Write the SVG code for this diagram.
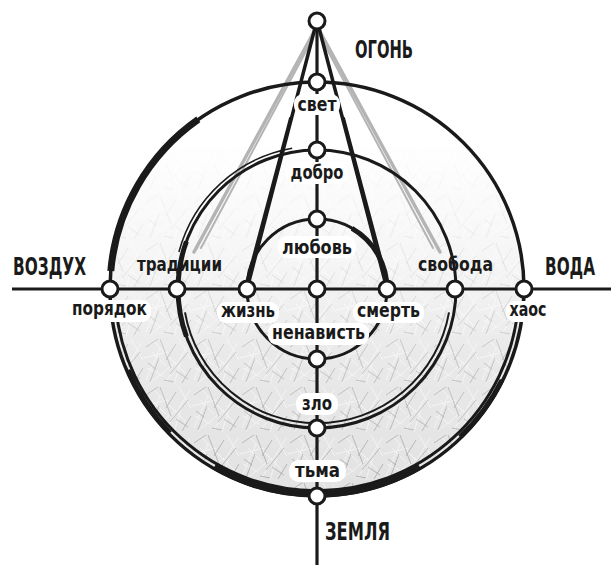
<svg xmlns="http://www.w3.org/2000/svg" width="611" height="565" viewBox="0 0 611 565">
<style>
.ring{fill:none;stroke:#1a1a1a}
.ax{stroke:#1a1a1a;stroke-width:3.2;fill:none}
.leg{stroke:#1a1a1a;fill:none;stroke-linecap:round}
.beam{stroke:#b4b4b4;fill:none;stroke-linecap:round}
.node{fill:#fff;stroke:#1a1a1a;stroke-width:3}
.pill{fill:#fff}
.lbl{font-family:"DejaVu Sans Condensed","DejaVu Sans",sans-serif;font-stretch:condensed;font-weight:bold;font-size:19px;fill:#1a1a1a;text-anchor:middle}
.big{font-family:"DejaVu Sans Condensed","DejaVu Sans",sans-serif;font-stretch:condensed;font-weight:bold;font-size:25px;fill:#1a1a1a}
</style>
<defs>
<pattern id="grass" width="48" height="48" patternUnits="userSpaceOnUse">
<rect width="48" height="48" fill="#e2e2e2"/>
<path d="M2 44 L16 12 M6 47 L32 26 M22 46 L46 6 M0 22 L24 16 M30 48 L38 22 M10 6 L42 38 M35 3 L47 24 M3 32 L19 40 M8 16 L22 30" stroke="#f2f2f2" stroke-width="1" fill="none"/>
<path d="M6 46 L15 22 M26 38 L44 16 M16 3 L27 32 M38 47 L47 32 M2 11 L14 3 M32 8 L22 24 M44 43 L32 35 M4 27 L12 33 M20 44 L30 46" stroke="#9c9c9c" stroke-width="0.7" fill="none"/>
</pattern>
<linearGradient id="fade" gradientUnits="userSpaceOnUse" x1="0" y1="140" x2="0" y2="495">
<stop offset="0" stop-color="#fff" stop-opacity="0"/>
<stop offset="0.35" stop-color="#fff" stop-opacity="0.35"/>
<stop offset="0.6" stop-color="#fff" stop-opacity="0.75"/>
<stop offset="1" stop-color="#fff" stop-opacity="1"/>
</linearGradient>
<mask id="fadeMask"><rect x="0" y="0" width="611" height="565" fill="url(#fade)"/></mask>
<clipPath id="outerClip"><circle cx="317" cy="289" r="205"/></clipPath>
</defs>
<rect width="611" height="565" fill="#fff"/>
<g id="texture" clip-path="url(#outerClip)" mask="url(#fadeMask)">
<rect x="100" y="80" width="440" height="420" fill="url(#grass)"/>
</g>
<g id="beams">
<line class="beam" x1="316" y1="28" x2="194" y2="252" stroke-width="3.5"/>
<line class="beam" x1="313" y1="38" x2="201" y2="248" stroke-width="2" stroke="#cfcfcf"/>
<line class="beam" x1="318" y1="28" x2="440" y2="252" stroke-width="3.5"/>
<line class="beam" x1="321" y1="38" x2="433" y2="248" stroke-width="2" stroke="#cfcfcf"/>
</g>
<g id="rings">
<circle class="ring" cx="317" cy="289" r="207" stroke-width="3.5"/>
<path class="ring" d="M110.8 271 A207 207 0 0 1 198.3 119.4" stroke-width="7"/>
<path class="ring" d="M518.2 306.6 A202 202 0 0 1 115.8 306.6" stroke-width="3"/>
<path class="ring" d="M419.5 466.5 A205 205 0 0 1 214.5 466.5" stroke-width="7"/>
<path class="ring" d="M502 380 A206 206 0 0 1 460 437" stroke-width="5"/>
<path class="ring" d="M170 433 A206 206 0 0 1 128 370" stroke-width="5"/>
<circle class="ring" cx="317" cy="289" r="139" stroke-width="3"/>
<path class="ring" d="M449 312.3 A134 134 0 0 1 185 312.3" stroke-width="2"/>
<path class="ring" d="M178.9 252 A143 143 0 0 1 292.2 148.2" stroke-width="1.5"/>
<path class="ring" d="M186.4 336.5 A139 139 0 0 1 186.4 241.5" stroke-width="5"/>
<circle class="ring" cx="317" cy="289" r="70" stroke-width="3"/>
<path class="ring" d="M352 228.4 A70 70 0 0 1 387 289" stroke-width="5"/>
</g>
<g id="connectors">
<line class="ax" x1="12" y1="289" x2="611" y2="289"/>
<line class="ax" x1="317" y1="21" x2="317" y2="565"/>
<line class="leg" x1="316" y1="24" x2="247" y2="289" stroke-width="3.5"/>
<line class="leg" x1="290" y1="118" x2="245" y2="287" stroke-width="2"/>
<line class="leg" x1="318" y1="24" x2="387" y2="289" stroke-width="3.5"/>
<line class="leg" x1="344" y1="118" x2="389" y2="287" stroke-width="2"/>
</g>
<g id="n-top"><circle class="node" cx="317" cy="21" r="8"/></g>
<g id="n-svet"><circle class="node" cx="317" cy="82" r="8"/><rect class="pill" x="294" y="94" width="46" height="21" rx="9"/><text class="lbl" x="317" y="111" textLength="39" lengthAdjust="spacingAndGlyphs">свет</text></g>
<g id="n-dobro"><circle class="node" cx="317" cy="150" r="8"/><rect class="pill" x="286" y="162" width="62" height="22" rx="9"/><text class="lbl" x="317" y="179" textLength="53" lengthAdjust="spacingAndGlyphs">добро</text></g>
<g id="n-lyubov"><circle class="node" cx="317" cy="219" r="8"/><rect class="pill" x="278" y="236" width="78" height="22" rx="9"/><text class="lbl" x="317" y="254" textLength="70" lengthAdjust="spacingAndGlyphs">любовь</text></g>
<g id="n-center"><circle class="node" cx="317" cy="289" r="8"/></g>
<g id="n-nenavist"><circle class="node" cx="317" cy="359" r="8"/><rect class="pill" x="268" y="323" width="101" height="22" rx="9"/><text class="lbl" x="318.5" y="339" textLength="93" lengthAdjust="spacingAndGlyphs">ненависть</text></g>
<g id="n-zlo"><circle class="node" cx="317" cy="428" r="8"/><rect class="pill" x="296" y="393" width="42" height="22" rx="10"/><text class="lbl" x="317" y="410" textLength="30" lengthAdjust="spacingAndGlyphs">зло</text></g>
<g id="n-tma"><circle class="node" cx="317" cy="496" r="8"/><rect class="pill" x="289" y="460" width="57" height="22" rx="10"/><text class="lbl" x="317.5" y="477" textLength="45" lengthAdjust="spacingAndGlyphs">тьма</text></g>
<g id="n-poryadok"><circle class="node" cx="110" cy="289" r="8"/><rect class="pill" x="68" y="300" width="83" height="22" rx="9"/><text class="lbl" x="109.5" y="315" textLength="75" lengthAdjust="spacingAndGlyphs">порядок</text></g>
<g id="n-traditsii"><circle class="node" cx="177" cy="289" r="8"/><text class="lbl" x="179.5" y="271" textLength="85" lengthAdjust="spacingAndGlyphs">традиции</text></g>
<g id="n-zhizn"><circle class="node" cx="247" cy="289" r="8"/><rect class="pill" x="217" y="302" width="62" height="21" rx="9"/><text class="lbl" x="248" y="317" textLength="54" lengthAdjust="spacingAndGlyphs">жизнь</text></g>
<g id="n-smert"><circle class="node" cx="387" cy="289" r="8"/><rect class="pill" x="353" y="302" width="71" height="21" rx="9"/><text class="lbl" x="388.5" y="317" textLength="63" lengthAdjust="spacingAndGlyphs">смерть</text></g>
<g id="n-svoboda"><circle class="node" cx="455" cy="289" r="8"/><text class="lbl" x="455.5" y="271" textLength="75" lengthAdjust="spacingAndGlyphs">свобода</text></g>
<g id="n-haos"><circle class="node" cx="524" cy="289" r="8"/><rect class="pill" x="506" y="301" width="45" height="21" rx="9"/><text class="lbl" x="528" y="316" textLength="37" lengthAdjust="spacingAndGlyphs">хаос</text></g>
<g id="l-ogon"><text class="big" x="355" y="58" textLength="58" lengthAdjust="spacingAndGlyphs">ОГОНЬ</text></g>
<g id="l-vozduh"><text class="big" x="13" y="275" textLength="73" lengthAdjust="spacingAndGlyphs">ВОЗДУХ</text></g>
<g id="l-voda"><text class="big" x="545" y="275" textLength="50" lengthAdjust="spacingAndGlyphs">ВОДА</text></g>
<g id="l-zemlya"><text class="big" x="325" y="540" textLength="65" lengthAdjust="spacingAndGlyphs">ЗЕМЛЯ</text></g>
</svg>
